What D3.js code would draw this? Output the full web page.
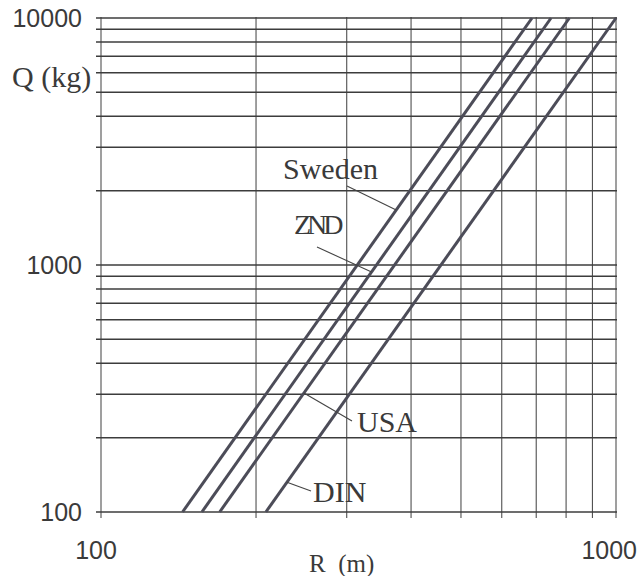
<!DOCTYPE html>
<html><head><meta charset="utf-8">
<script src="https://cdn.jsdelivr.net/npm/d3@7"></script>
<style>body{margin:0;background:#fff} svg{display:block}</style>
</head><body><svg id="c" width="637" height="576"></svg>
<script>
// ---- data ----
const seriesNames = ["Sweden", "ZND", "USA", "DIN"];
const qEnds = [100, 10000];              // Q (kg) at the ends of each line
const rAtQ100 = [144, 157, 170, 209];    // R (m) where Q = 100 kg
const rAtQ10000 = [687, 748, 812, 1000]; // R (m) where Q = 10000 kg
const leaderQ = [1670, 937, 303, 132];   // Q where each label's leader touches its line
const xGridValues = [100, 200, 300, 400, 500, 600, 700, 800, 900, 1000];
const yGridValues = [100, 200, 300, 400, 500, 600, 700, 800, 900,
                     1000, 2000, 3000, 4000, 5000, 6000, 7000, 8000, 9000, 10000];
const yTickLabels = [100, 1000, 10000];
const xTickLabels = [100, 1000];
const xTitle = "R  (m)";
const yTitle = "Q (kg)";

// ---- layout ----
const svg = d3.select("#c");
const x = d3.scaleLog().domain([100, 1000]).range([101, 616]);
const y = d3.scaleLog().domain([100, 10000]).range([512, 18]);
const serif = "'Liberation Serif','Times New Roman',serif";
const sans = "'Liberation Sans',Arial,sans-serif";
const ink = "#3a3a3a";

// grid
svg.append("g").selectAll("line").data(xGridValues).join("line")
  .attr("x1", d => x(d)).attr("x2", d => x(d))
  .attr("y1", y(10000) - 1).attr("y2", y(100) + 6)
  .attr("stroke", "#505050").attr("stroke-width", 1.1);
svg.append("g").selectAll("line").data(yGridValues).join("line")
  .attr("x1", x(100) - 5).attr("x2", x(1000) + 1)
  .attr("y1", d => y(d)).attr("y2", d => y(d))
  .attr("stroke", "#3c3c3c").attr("stroke-width", 1.5);

// series lines
const logInterp = (i, q) => {
  const t = (Math.log10(q) - Math.log10(qEnds[0])) / (Math.log10(qEnds[1]) - Math.log10(qEnds[0]));
  return Math.pow(10, Math.log10(rAtQ100[i]) + t * (Math.log10(rAtQ10000[i]) - Math.log10(rAtQ100[i])));
};
const line = d3.line().x(d => x(d[0])).y(d => y(d[1]));
svg.append("g").selectAll("path").data(seriesNames).join("path")
  .attr("d", (d, i) => line([[rAtQ100[i], qEnds[0]], [rAtQ10000[i], qEnds[1]]]))
  .attr("fill", "none").attr("stroke", "#4c4c58").attr("stroke-width", 3);

// labels with leaders
const labelPos = [
  {tx: 283, ty: 179, lx: 347, ly: 186, fs: 30, ls: 0},
  {tx: 294, ty: 234, lx: 317, ly: 247, fs: 28, ls: -4},
  {tx: 357, ty: 432, lx: 352, ly: 421, fs: 30, ls: 0},
  {tx: 313, ty: 502, lx: 311, ly: 491, fs: 30, ls: 0}
];
seriesNames.forEach((name, i) => {
  const p = labelPos[i];
  svg.append("line")
    .attr("x1", x(logInterp(i, leaderQ[i]))).attr("y1", y(leaderQ[i]))
    .attr("x2", p.lx).attr("y2", p.ly)
    .attr("stroke", "#444").attr("stroke-width", 1.1);
  svg.append("text").attr("x", p.tx).attr("y", p.ty)
    .attr("font-family", serif).attr("font-size", p.fs)
    .attr("letter-spacing", p.ls).attr("fill", ink).text(name);
});

// tick labels
svg.append("g").selectAll("text").data(yTickLabels).join("text")
  .attr("x", 82).attr("y", d => y(d) + 9)
  .attr("text-anchor", "end").attr("font-family", sans).attr("font-size", 25)
  .attr("fill", ink).text(d => d);
svg.append("g").selectAll("text").data(xTickLabels).join("text")
  .attr("x", (d, i) => i === 0 ? x(d) - 5 : 637).attr("y", 559)
  .attr("text-anchor", (d, i) => i === 0 ? "middle" : "end")
  .attr("font-family", sans).attr("font-size", 25).attr("fill", ink).text(d => d);

// axis titles
svg.append("text").attr("x", 12).attr("y", 87).attr("font-family", serif)
  .attr("font-size", 30).attr("fill", ink).text(yTitle);
svg.append("text").attr("x", 309).attr("y", 572).attr("font-family", serif)
  .attr("font-size", 25).attr("fill", ink).attr("xml:space", "preserve")
  .style("white-space", "pre").text(xTitle);
</script></body></html>
